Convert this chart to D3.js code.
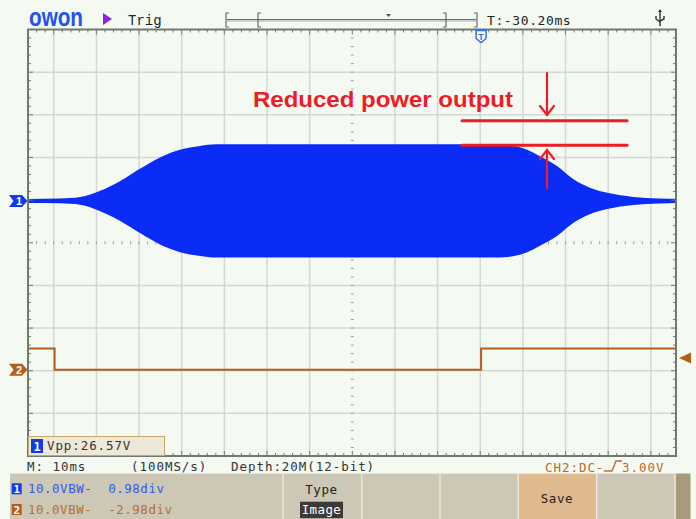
<!DOCTYPE html>
<html><head><meta charset="utf-8">
<script src="https://cdn.jsdelivr.net/npm/d3@7"></script>
<style>html,body{margin:0;padding:0;background:#f4f9f2;} svg{display:block;}</style>
</head><body><svg id="c" width="696" height="519"></svg>
<script>
// ---- data ----
const envTimeMs = [-76, -68.5, -63.8, -59.1, -54.4, -49.7, -45.1, -40.4, -35.7, -32.0, 34.5, 38.0, 41.0, 44.0, 48.0, 51.7, 55.7, 59.8, 65.9, 72.0, 76];
const ch1EnvV   = [0.47, 0.55, 0.9, 2.4, 4.7, 7.6, 10.2, 12.0, 12.9, 13.28, 13.28, 12.9, 12.0, 10.5, 8.2, 5.2, 3.1, 1.9, 0.95, 0.6, 0.5];
const ch2TimeMs = [-76, -69.8, 30.2, 76];
const ch2LevelV = [5, 0, 5, 5];
const xTicksMs = [-70, -60, -50, -40, -30, -20, -10, 0, 10, 20, 30, 40, 50, 60, 70];
const yDivTicks = [-4, -3, -2, -1, 0, 1, 2, 3, 4];
const ch1OffsetDiv = 0.98, ch2OffsetDiv = -2.98, voltsPerDiv = 10, trigTimeMs = 30.2;
const infoTexts = ["M: 10ms", "(100MS/s)", "Depth:20M(12-bit)"];
const ch1Label = "10.0VBW-  0.98div", ch2Label = "10.0VBW-  -2.98div";
const vppLabel = "Vpp:26.57V";

// ---- scales ----
const svg = d3.select("#c");
const X0 = 28, X1 = 676, Y0 = 29.5, Y1 = 456;
const x = d3.scaleLinear().domain([-76.04, 75.9]).range([X0, X1]);
const yDiv = d3.scaleLinear().domain([-5, 5]).range([Y1, Y0]);
const y1 = v => yDiv(ch1OffsetDiv + v / voltsPerDiv);
const y2 = v => yDiv(ch2OffsetDiv + v / voltsPerDiv);
const mono = "'DejaVu Sans Mono', 'Liberation Mono', monospace";

svg.append("rect").attr("width", 696).attr("height", 519).attr("fill", "#f4f9f2");

// grid
const g = svg.append("g");
g.selectAll(".vg").data(xTicksMs.filter(t => t !== 0)).join("line")
  .attr("x1", d => x(d)).attr("x2", d => x(d)).attr("y1", Y0).attr("y2", Y1)
  .attr("stroke", "#d4d8d3").attr("stroke-width", 1.5);
g.selectAll(".hg").data(yDivTicks.filter(t => t !== 0)).join("line")
  .attr("y1", d => yDiv(d)).attr("y2", d => yDiv(d)).attr("x1", X0).attr("x2", X1)
  .attr("stroke", "#d4d8d3").attr("stroke-width", 1.5);
// center dotted marks
const minorT = d3.range(-76, 76.1, 2);
const minorD = d3.range(-5, 5.01, 0.2);
g.selectAll(".cx").data(minorT).join("line")
  .attr("x1", d => x(d)).attr("x2", d => x(d)).attr("y1", yDiv(0) - 1.5).attr("y2", yDiv(0) + 1.5)
  .attr("stroke", "#9aa29a").attr("stroke-width", 1);
g.selectAll(".cy").data(minorD).join("line")
  .attr("y1", d => yDiv(d)).attr("y2", d => yDiv(d)).attr("x1", x(0) - 1.5).attr("x2", x(0) + 1.5)
  .attr("stroke", "#9aa29a").attr("stroke-width", 1);

// ch1 waveform envelope
const env = envTimeMs.map((t, i) => ({t, a: ch1EnvV[i]}));
const area = d3.area().x(d => x(d.t)).y0(d => y1(-d.a)).y1(d => y1(d.a)).curve(d3.curveMonotoneX);
svg.append("path").datum(env).attr("d", area).attr("fill", "#0a2cf6");

// ch2 trace
const ch2 = ch2TimeMs.map((t, i) => ({t, v: ch2LevelV[i]}));
svg.append("path").datum(ch2)
  .attr("d", d3.line().x(d => x(d.t)).y(d => y2(d.v)).curve(d3.curveStepAfter))
  .attr("fill", "none").attr("stroke", "#b45e1c").attr("stroke-width", 2);

// border + ticks
const b = svg.append("g");
b.append("rect").attr("x", X0).attr("y", Y0).attr("width", X1 - X0).attr("height", Y1 - Y0)
  .attr("fill", "none").attr("stroke", "#6f7b6f").attr("stroke-width", 2);
const isMajT = d => Math.abs(d % 10) < 0.01;
b.selectAll(".tt").data(minorT).join("line")
  .attr("x1", d => x(d)).attr("x2", d => x(d)).attr("y1", Y0).attr("y2", d => Y0 + (isMajT(d) ? 5 : 3))
  .attr("stroke", "#6f7b6f").attr("stroke-width", 1);
b.selectAll(".bt").data(minorT).join("line")
  .attr("x1", d => x(d)).attr("x2", d => x(d)).attr("y1", Y1).attr("y2", d => Y1 - (isMajT(d) ? 5 : 3))
  .attr("stroke", "#6f7b6f").attr("stroke-width", 1);
const isMajD = d => Math.abs(d - Math.round(d)) < 0.01;
b.selectAll(".lt").data(minorD).join("line")
  .attr("y1", d => yDiv(d)).attr("y2", d => yDiv(d)).attr("x1", X0).attr("x2", d => X0 + (isMajD(d) ? 5 : 3))
  .attr("stroke", "#6f7b6f").attr("stroke-width", 1);
b.selectAll(".rt").data(minorD).join("line")
  .attr("y1", d => yDiv(d)).attr("y2", d => yDiv(d)).attr("x1", X1).attr("x2", d => X1 - (isMajD(d) ? 5 : 3))
  .attr("stroke", "#6f7b6f").attr("stroke-width", 1);

// channel markers
function chMarker(yc, col, label) {
  const m = svg.append("g");
  m.append("path").attr("d", `M9,${yc-6}L22,${yc-6}L27.5,${yc}L22,${yc+6}L9,${yc+6}L13.5,${yc}Z`).attr("fill", col);
  m.append("text").attr("x", 19).attr("y", yc + 4).attr("text-anchor", "middle")
    .attr("font-family", "'Liberation Sans', Arial").attr("font-weight", "bold").attr("font-size", 11)
    .attr("fill", "#fff").text(label);
}
chMarker(yDiv(ch1OffsetDiv), "#1238f0", "1");
chMarker(yDiv(ch2OffsetDiv), "#b45e1c", "2");
svg.append("path").attr("d", "M679,358L691,352.5L691,363.5Z").attr("fill", "#b45e1c");

// trigger T marker
const tx = x(trigTimeMs);
svg.append("path").attr("d", `M${tx-5},30.5L${tx+5},30.5L${tx+5},38.5L${tx},42.5L${tx-5},38.5Z`)
  .attr("fill", "#ffffff").attr("stroke", "#2a6cf0").attr("stroke-width", 1.5);
svg.append("text").attr("x", tx).attr("y", 39.5).attr("text-anchor", "middle")
  .attr("font-family", "'Liberation Sans', Arial").attr("font-weight", "bold").attr("font-size", 9)
  .attr("fill", "#2a6cf0").text("T");

// header
svg.append("text").attr("x", 29).attr("y", 25.5).attr("font-family", "'Liberation Sans', Arial")
  .attr("font-weight", "bold").attr("font-size", 25).attr("fill", "#1f52f2")
  .attr("textLength", 54).attr("lengthAdjust", "spacingAndGlyphs").text("owon");
svg.append("path").attr("d", "M103,13L112,19L103,25Z").attr("fill", "#8a22e8");
svg.append("text").attr("x", 128).attr("y", 25).attr("font-family", "'Liberation Mono', monospace")
  .attr("font-size", 14).attr("fill", "#222").text("Trig");
const hb = svg.append("g").attr("stroke", "#6a6a6a").attr("fill", "none").attr("stroke-width", 1.2);
hb.append("line").attr("x1", 227).attr("x2", 476).attr("y1", 19.5).attr("y2", 19.5);
hb.append("line").attr("x1", 227).attr("x2", 476).attr("y1", 21).attr("y2", 21).attr("stroke", "#a8a8a8");
hb.append("path").attr("d", "M229,13L226,13L226,27L229,27");
hb.append("path").attr("d", "M261,13L258,13L258,27L261,27");
hb.append("path").attr("d", "M443,13L446,13L446,27L443,27");
hb.append("path").attr("d", "M474,13L477,13L477,27L474,27");
svg.append("path").attr("d", "M386,14L391,14L388.5,17Z").attr("fill", "#555");
svg.append("text").attr("x", 487).attr("y", 25).attr("font-family", mono).attr("font-size", 13)
  .attr("letter-spacing", 0.6).attr("fill", "#222").text("T:-30.20ms");
const usb = svg.append("g").attr("stroke", "#333").attr("stroke-width", 1.4).attr("fill", "none");
usb.append("line").attr("x1", 660).attr("x2", 660).attr("y1", 11).attr("y2", 26);
usb.append("path").attr("d", "M656,16L656,19L660,22M664,16L664,19L660,21");
svg.append("path").attr("d", "M658,12L660,9L662,12Z").attr("fill", "#333");

// annotation
const red = "#ee1c25";
svg.append("text").attr("x", 253).attr("y", 107).attr("font-family", "'Liberation Sans', Arial")
  .attr("font-weight", "bold").attr("font-size", 22.5).attr("fill", red)
  .attr("textLength", 260).attr("lengthAdjust", "spacingAndGlyphs").text("Reduced power output");
const an = svg.append("g").attr("stroke", red).attr("fill", "none").attr("stroke-linecap", "round");
an.append("line").attr("x1", 462).attr("x2", 627).attr("y1", 120.7).attr("y2", 120.7).attr("stroke-width", 3);
an.append("line").attr("x1", 462).attr("x2", 627).attr("y1", 145.3).attr("y2", 145.3).attr("stroke-width", 3);
an.append("line").attr("x1", 547).attr("x2", 547).attr("y1", 73).attr("y2", 115).attr("stroke-width", 2.2);
an.append("path").attr("d", "M540,106L547,115L554,106").attr("stroke-width", 2.2);
an.append("line").attr("x1", 547).attr("x2", 547).attr("y1", 150).attr("y2", 188).attr("stroke-width", 2.2);
an.append("path").attr("d", "M540,159L547,150L554,159").attr("stroke-width", 2.2);

// Vpp box
svg.append("rect").attr("x", 28.5).attr("y", 436.5).attr("width", 136).attr("height", 19)
  .attr("fill", "#eee8d8").attr("stroke", "#c9a86c").attr("stroke-width", 1);
svg.append("rect").attr("x", 31).attr("y", 439).attr("width", 12).attr("height", 14).attr("fill", "#1238f0");
svg.append("text").attr("x", 37).attr("y", 451).attr("text-anchor", "middle").attr("font-family", mono)
  .attr("font-size", 12).attr("font-weight", "bold").attr("fill", "#fff").text("1");
svg.append("text").attr("x", 47).attr("y", 450).attr("font-family", mono).attr("font-size", 12.5)
  .attr("letter-spacing", 0.9).attr("fill", "#333").text(vppLabel);

// info line
const infoX = [27, 131, 231];
svg.selectAll(".info").data(infoTexts).join("text")
  .attr("x", (d, i) => infoX[i]).attr("y", 471).attr("font-family", mono).attr("font-size", 12.5)
  .attr("letter-spacing", 0.95).attr("fill", "#333").text(d => d);
const brown = "#c0682a";
svg.append("text").attr("x", 545).attr("y", 472).attr("font-family", mono).attr("font-size", 12.5)
  .attr("letter-spacing", 0.95).attr("fill", brown).text("CH2:DC-");
svg.append("path").attr("d", "M604,471L612,471L616,461L622,461").attr("fill", "none")
  .attr("stroke", brown).attr("stroke-width", 1.3);
svg.append("text").attr("x", 622).attr("y", 472).attr("font-family", mono).attr("font-size", 12.5)
  .attr("letter-spacing", 0.95).attr("fill", brown).text("3.00V");

// menu bar
svg.append("rect").attr("x", 10).attr("y", 473.5).attr("width", 666).attr("height", 46).attr("fill", "#cdc7b5");
svg.append("rect").attr("x", 518).attr("y", 473.5).attr("width", 79).attr("height", 46).attr("fill", "#e0b98e");
svg.append("rect").attr("x", 675.5).attr("y", 473.5).attr("width", 15).attr("height", 46).attr("fill", "#a99a7c");
svg.append("line").attr("x1", 10).attr("x2", 676).attr("y1", 473.5).attr("y2", 473.5).attr("stroke", "#e6e2d6").attr("stroke-width", 1);
const seps = [283, 361.7, 440, 518.3, 596.7, 675];
svg.selectAll(".sep").data(seps).join("line")
  .attr("x1", d => d).attr("x2", d => d).attr("y1", 474).attr("y2", 519)
  .attr("stroke", "#ebe7de").attr("stroke-width", 1.5);
function chRow(yTop, col, txtCol, n, label) {
  svg.append("rect").attr("x", 11.7).attr("y", yTop).attr("width", 10).attr("height", 11).attr("fill", col);
  svg.append("text").attr("x", 16.7).attr("y", yTop + 9.5).attr("text-anchor", "middle").attr("font-family", mono)
    .attr("font-size", 11).attr("font-weight", "bold").attr("fill", "#fff").text(n);
  svg.append("text").attr("x", 28).attr("y", yTop + 10).attr("font-family", mono).attr("font-size", 12.5)
    .attr("letter-spacing", 0.5).attr("fill", txtCol).attr("xml:space", "preserve").text(label);
}
chRow(483.3, "#1238f0", "#3358ee", "1", ch1Label);
chRow(504, "#b45e1c", "#b8702c", "2", ch2Label);
svg.append("text").attr("x", 321.5).attr("y", 494).attr("text-anchor", "middle").attr("font-family", mono)
  .attr("font-size", 12.5).attr("letter-spacing", 0.6).attr("fill", "#222").text("Type");
svg.append("rect").attr("x", 300).attr("y", 501.7).attr("width", 43).attr("height", 16.5).attr("fill", "#3a3a38");
svg.append("text").attr("x", 321.5).attr("y", 514).attr("text-anchor", "middle").attr("font-family", mono)
  .attr("font-size", 12.5).attr("letter-spacing", 0.4).attr("fill", "#fff").text("Image");
svg.append("text").attr("x", 557).attr("y", 503).attr("text-anchor", "middle").attr("font-family", mono)
  .attr("font-size", 12.5).attr("letter-spacing", 0.6).attr("fill", "#222").text("Save");
</script></body></html>
